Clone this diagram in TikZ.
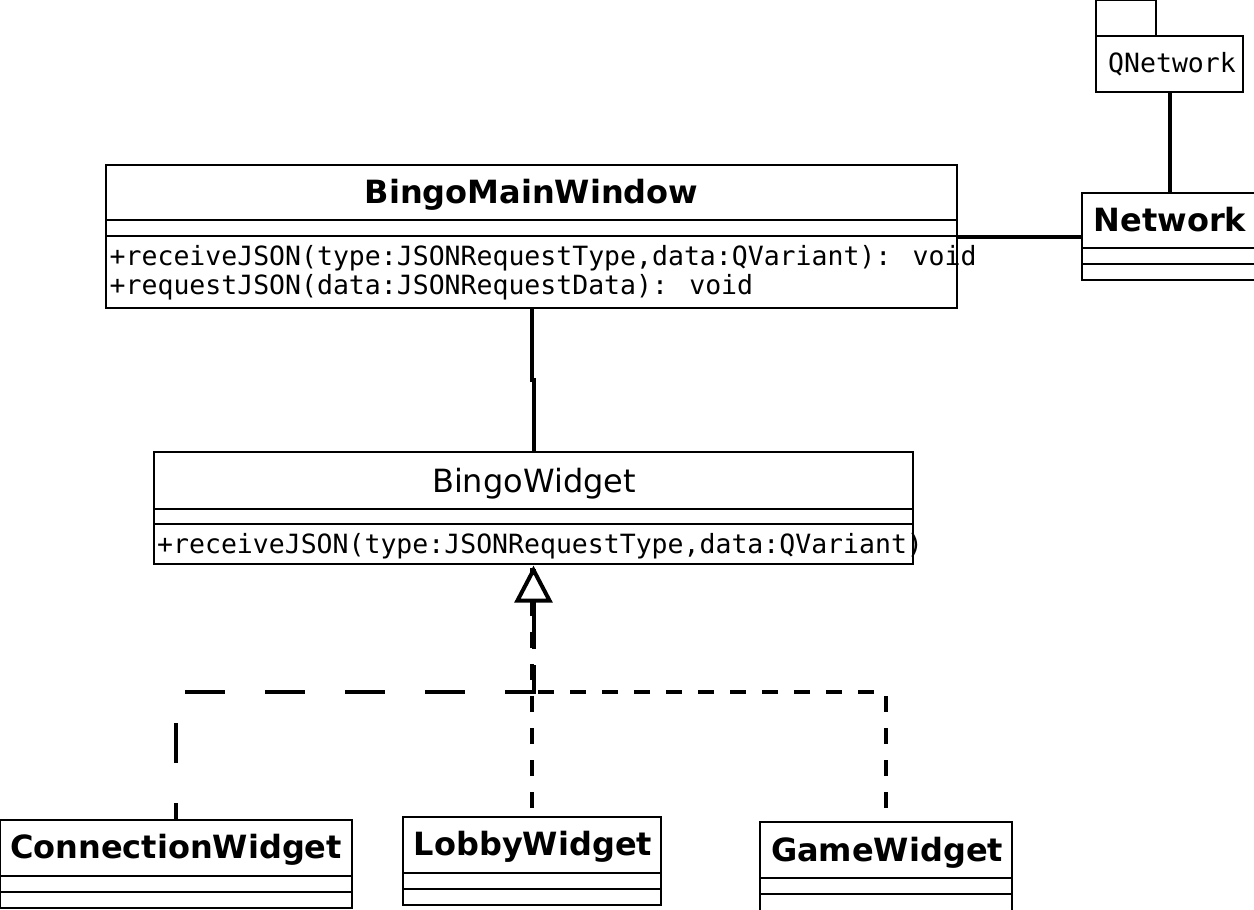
\documentclass[tikz,border=0pt]{standalone}
\usepackage{fontspec}
\setmainfont{DejaVu Sans}
\newfontfamily\monof{DejaVu Sans Mono}
\usetikzlibrary{calc}
\begin{document}
\begin{tikzpicture}[x=1pt,y=-1pt,
  box/.style={draw=black, line width=1.3pt, fill=white, inner sep=0pt, outer sep=0pt, anchor=north west},
  cname/.style={font=\fontsize{32}{32}\selectfont\bfseries, inner sep=0pt, anchor=base},
  pname/.style={font=\fontsize{32}{32}\selectfont, inner sep=0pt, anchor=base},
  meth/.style={font=\monof\fontsize{26.5}{26.5}\selectfont, inner sep=0pt, anchor=base west},
  pkg/.style={font=\monof\fontsize{26.5}{26.5}\selectfont, inner sep=0pt, anchor=base},
  sep/.style={line width=1.3pt},
  assoc/.style={line width=4pt},
  realize/.style={line width=4pt, dash pattern=on 40pt off 40pt, dash phase=23pt},
  realizeb/.style={line width=4pt, dash pattern=on 16pt off 16pt}
]
\fill[white] (0,0) rectangle (1254,910);
\useasboundingbox (0,0) rectangle (1254,910);

% QNetwork package
\node[box, minimum width=60pt, minimum height=35.3pt] (qtab) at (1096,0.7) {};
\node[box, minimum width=147pt, minimum height=56pt] (qn) at (1096,36) {};
\node[pkg] (qnt) at (1172,72) {QNetwork};

% Network
\node[box, minimum width=180pt, minimum height=87pt] (net) at (1082,193) {};
\draw[sep] (1082,248) -- (1262,248);
\draw[sep] (1082,264) -- (1262,264);
\node[cname] (nett) at (1170,231) {Network};

% BingoMainWindow
\node[box, minimum width=851pt, minimum height=143pt] (bmw) at (106,165) {};
\draw[sep] (106,220) -- (957,220);
\draw[sep] (106,236) -- (957,236);
\node[cname] (bmwt) at (531.5,203) {BingoMainWindow};
\node[meth] (bmwm1) at (109.5,265) {+receiveJSON(type:JSONRequestType,data:QVariant): void};
\node[meth] (bmwm2) at (109.5,294) {+requestJSON(data:JSONRequestData): void};

% BingoWidget
\node[box, minimum width=759pt, minimum height=112pt] (bw) at (154,452) {};
\draw[sep] (154,509) -- (913,509);
\draw[sep] (154,524) -- (913,524);
\node[pname] (bwt) at (534,492) {BingoWidget};
\node[meth] (bwm1) at (157,553) {+receiveJSON(type:JSONRequestType,data:QVariant)};

% ConnectionWidget
\node[box, minimum width=351.3pt, minimum height=88pt] (cw) at (0.7,820) {};
\draw[sep] (0.7,876) -- (352,876);
\draw[sep] (0.7,892) -- (352,892);
\node[cname] (cwt) at (176,858) {ConnectionWidget};

% LobbyWidget
\node[box, minimum width=258pt, minimum height=88pt] (lw) at (403,817) {};
\draw[sep] (403,873) -- (661,873);
\draw[sep] (403,889) -- (661,889);
\node[cname] (lwt) at (533,855) {LobbyWidget};

% GameWidget
\node[box, minimum width=252pt, minimum height=100pt] (gw) at (760,822) {};
\draw[sep] (760,878) -- (1012,878);
\draw[sep] (760,894) -- (1012,894);
\node[cname] (gwt) at (887,861) {GameWidget};

% associations
\draw[assoc] (qn.south) -- (qn.south |- net.north);
\draw[assoc] (bmw.east) -- (bmw.east -| net.west);
\draw[assoc] (bmw.south) -- ++(0,72) -| (bw.north);

% realizations
\coordinate (j) at (533.5,692);
\draw[realize] (cw.north) |- (j) -- (bw.south);
\draw[realizeb] ($(lw.north)+(0,-9)$) -- (lw.north |- bw.south);
\draw[realizeb] ($(gw.north)+(0,-14)$) |- (j) -- (bw.south);
\draw[line width=4pt, fill=white, line join=miter] ($(bw.south)+(0,6)$) -- ++(-16,30.5) -- ++(32,0) -- cycle;
\end{tikzpicture}
\end{document}
